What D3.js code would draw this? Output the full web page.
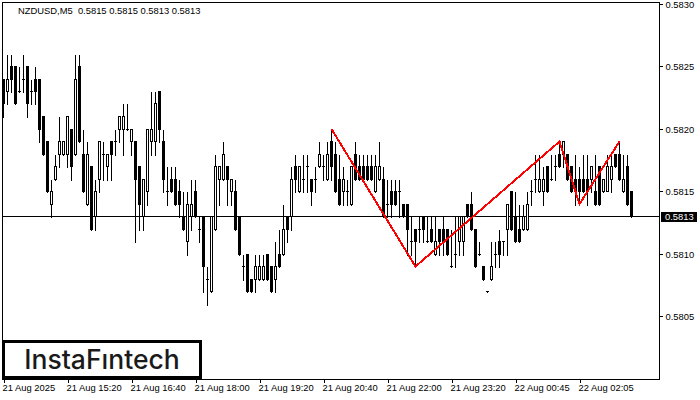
<!DOCTYPE html>
<html lang="en">
<head>
<meta charset="UTF-8">
<title>NZDUSD M5</title>
<style>
    html, body { margin: 0; padding: 0; background: #fff; }
    svg { display: block; }
    text { font-family: "Liberation Sans", Arial, sans-serif; font-size: 9.4px; fill: #000; }
    .logo { font-family: Inter, sans-serif; font-size: 26.5px; font-weight: 500; fill: #1a1a1a; }
</style>
</head>
<body>
<svg id="svg" width="700" height="400"></svg>
<script src="https://d3js.org/d3.v7.min.js"></script>
<script>
// prices are stored as pips above 0.5800
const opens = [24,23,25,25,23,24,25,23,24,24,21,19,14,16,18,18,18,20,18,25,18,14,17,13,16,18,17,19,19,20,20,20,19,19,17,13,15,19,19,23,19,15,16,16,15,13,11,13,15,12,13,8,7,12,16,16,17,15,15,13,9,10,8,8,8,8,10,9,8,10,10,13,13,17,15,16,17,16,16,17,17,16,
    19,18,16,15,15,14,18,17,17,17,17,15,16,16,14,15,15,15,14,14,11,12,12,13,11,12,10,12,12,12,9,10,11,11,14,14,12,10,9,7,8,10,11,11,12,15,13,12,12,12,15,16,15,15,17,16,17,18,18,18,17,16,16,16,16,16,15,17,15,15,16,18,18,15,17,15]
const closes = [22,24,24,22,23,24,22,23,23,20,18,15,15,17,19,19,21,17,24,19,15,18,12,15,19,18,18,18,19,21,21,20,20,16,14,16,20,20,22,20,16,15,15,14,14,12,14,14,13,12,9,8,13,17,17,18,16,16,12,10,9,7,7,9,9,9,8,7,9,9,12,12,16,16,17,16,17,15,16,18,17,18,
    17,15,14,16,15,17,16,16,16,16,16,17,17,13,14,14,14,15,13,12,11,11,12,12,11,11,11,11,11,10,9,10,13,13,13,12,9,10,8,7,9,10,10,11,14,12,11,11,13,14,15,16,16,16,15,16,17,17,19,16,15,15,15,15,15,17,14,14,16,17,17,17,16,16,14,13]
const highs = [24,26,26,25,25,26,25,24,25,24,21,19,16,18,21,19,21,20,26,26,20,19,17,16,19,19,18,19,20,21,22,22,20,19,17,16,20,23,23,23,20,17,17,17,16,15,15,16,16,13,13,9,13,18,17,19,17,16,16,13,10,10,8,10,10,10,10,9,11,12,14,13,17,18,17,18,18,16,17,19,18,19,
    20,19,18,17,16,17,19,18,18,18,18,18,19,17,16,16,16,16,14,14,13,12,13,13,13,13,13,12,13,12,12,13,13,13,14,15,12,11,9,7,11,11,12,11,14,15,15,14,14,15,16,18,18,17,17,18,18,19,19,18,17,18,17,18,18,17,18,15,16,18,18,18,19,18,18,15]
const lows = [21,22,23,22,23,23,21,22,22,19,18,15,13,16,17,18,17,16,18,19,15,14,12,12,15,16,16,16,18,19,18,20,18,11,12,12,14,18,18,19,15,14,15,14,13,12,10,12,13,11,7,6,7,12,14,16,14,14,12,10,8,7,7,7,8,8,8,7,7,9,10,11,12,15,15,15,15,14,15,17,16,16,
    16,15,14,14,14,14,16,16,16,16,16,15,16,13,13,13,14,13,13,10,10,9,11,11,11,11,10,10,10,10,9,9,10,10,13,12,9,10,8,7,8,9,9,10,10,12,11,11,12,12,14,15,15,14,15,16,16,17,17,16,15,14,14,15,14,15,14,14,15,16,15,17,16,15,14,13]
const timeTicks = [0,16,32,48,64,80,96,112,128,144]
const timeLabels = ['21 Aug 2025','21 Aug 15:20','21 Aug 16:40','21 Aug 18:00','21 Aug 19:20','21 Aug 20:40','21 Aug 22:00','21 Aug 23:20','22 Aug 00:45','22 Aug 02:05']
const priceTicks = [30,25,20,15,10,5]
const priceLabels = ['0.5830','0.5825','0.5820','0.5815','0.5810','0.5805']
const lastPrice = 13
const lastLabel = '0.5813'
const title = 'NZDUSD,M5  0.5815 0.5815 0.5813 0.5813'
// double top pattern: candle index and level of each turning point
const patternBars = [82,103,139,144,154]
const patternLevels = [20,9,19,14,19]

const plot = { left: 2.5, right: 659.5, top: 2.5, bottom: 379.5 }

const xscale = d3.scaleLinear().domain([0, 157]).range([3.5, 631.5])
const yscale = d3.scaleLinear().domain([30, 5]).range([4, 316.5])
// snap a level to the middle of a pixel row
const ypx = v => Math.floor(yscale(v)) + 0.5

const svg = d3.select('#svg')

// frame
svg.append('rect')
    .attr('x', plot.left).attr('y', plot.top)
    .attr('width', plot.right - plot.left).attr('height', plot.bottom - plot.top)
    .attr('fill', 'none').attr('stroke', '#000')
    .attr('shape-rendering', 'crispEdges')

// last price line
svg.append('line')
    .attr('x1', plot.left).attr('x2', plot.right)
    .attr('y1', ypx(lastPrice)).attr('y2', ypx(lastPrice))
    .attr('stroke', '#000').attr('shape-rendering', 'crispEdges')

// candles
const candle = svg.append('g').attr('shape-rendering', 'crispEdges')
    .selectAll('g').data(opens).enter().append('g')

candle.append('line')
    .attr('x1', (d, i) => xscale(i)).attr('x2', (d, i) => xscale(i))
    .attr('y1', (d, i) => ypx(highs[i]))
    .attr('y2', (d, i) => ypx(lows[i]) + 1)
    .attr('stroke', '#000')

candle.each(function (o, i) {
    const c = closes[i]
    const g = d3.select(this)
    if (o === c) {
        // doji, a short dash
        g.append('line')
            .attr('x1', xscale(i) - 1.5).attr('x2', xscale(i) + 1.5)
            .attr('y1', ypx(o)).attr('y2', ypx(o))
            .attr('stroke', '#000')
    } else if (c > o) {
        g.append('rect')
            .attr('x', xscale(i) - 1).attr('width', 2)
            .attr('y', ypx(c)).attr('height', ypx(o) - ypx(c))
            .attr('fill', '#fff').attr('stroke', '#000')
    } else {
        g.append('rect')
            .attr('x', xscale(i) - 1.5).attr('width', 3)
            .attr('y', ypx(o) - 0.5).attr('height', ypx(c) - ypx(o) + 1)
            .attr('fill', '#000')
    }
})

// red pattern
const line = d3.line()
    .x(d => xscale(d))
    .y((d, i) => yscale(patternLevels[i]))
svg.append('path')
    .attr('d', line(patternBars))
    .attr('fill', 'none').attr('stroke', '#f00').attr('stroke-width', 2)
    .attr('shape-rendering', 'crispEdges')

// axes
const rightAxis = d3.axisRight(yscale)
    .tickValues(priceTicks)
    .tickFormat((d, i) => priceLabels[i])
    .tickSize(3).tickPadding(3)
const rightG = svg.append('g').attr('transform', `translate(${plot.right},0)`).call(rightAxis)
rightG.select('.domain').remove()
rightG.selectAll('.tick').attr('transform', d => `translate(0,${ypx(d)})`)
rightG.selectAll('line').attr('stroke', '#000').attr('shape-rendering', 'crispEdges')
rightG.selectAll('text').attr('font-family', null).attr('font-size', null)

const bottomAxis = d3.axisBottom(xscale)
    .tickValues(timeTicks)
    .tickFormat((d, i) => timeLabels[i])
    .tickSize(3).tickPadding(3)
const bottomG = svg.append('g').attr('transform', `translate(0,${plot.bottom})`).call(bottomAxis)
bottomG.select('.domain').remove()
bottomG.selectAll('line').attr('stroke', '#000').attr('shape-rendering', 'crispEdges')
bottomG.selectAll('text').attr('text-anchor', 'start').attr('x', -1.5).attr('y', 3.5).attr('dy', '0.9em')

// last price tag
svg.append('rect')
    .attr('x', 661).attr('y', ypx(lastPrice) - 4.5)
    .attr('width', 36).attr('height', 10)
    .attr('fill', '#000')
svg.append('text')
    .attr('x', 665).attr('y', ypx(lastPrice) + 3.5)
    .style('fill', '#fff')
    .text(lastLabel)

// title
svg.append('text').attr('x', 18).attr('y', 14).style('white-space', 'pre').text(title)

// logo
svg.append('rect')
    .attr('x', 3.5).attr('y', 341.5).attr('width', 197).attr('height', 36)
    .attr('fill', '#fff').attr('stroke', '#000').attr('stroke-width', 3)
svg.append('text').attr('class', 'logo')
    .attr('x', 102).attr('y', 369).attr('text-anchor', 'middle')
    .text('InstaFıntech')
</script>
</body>
</html>
